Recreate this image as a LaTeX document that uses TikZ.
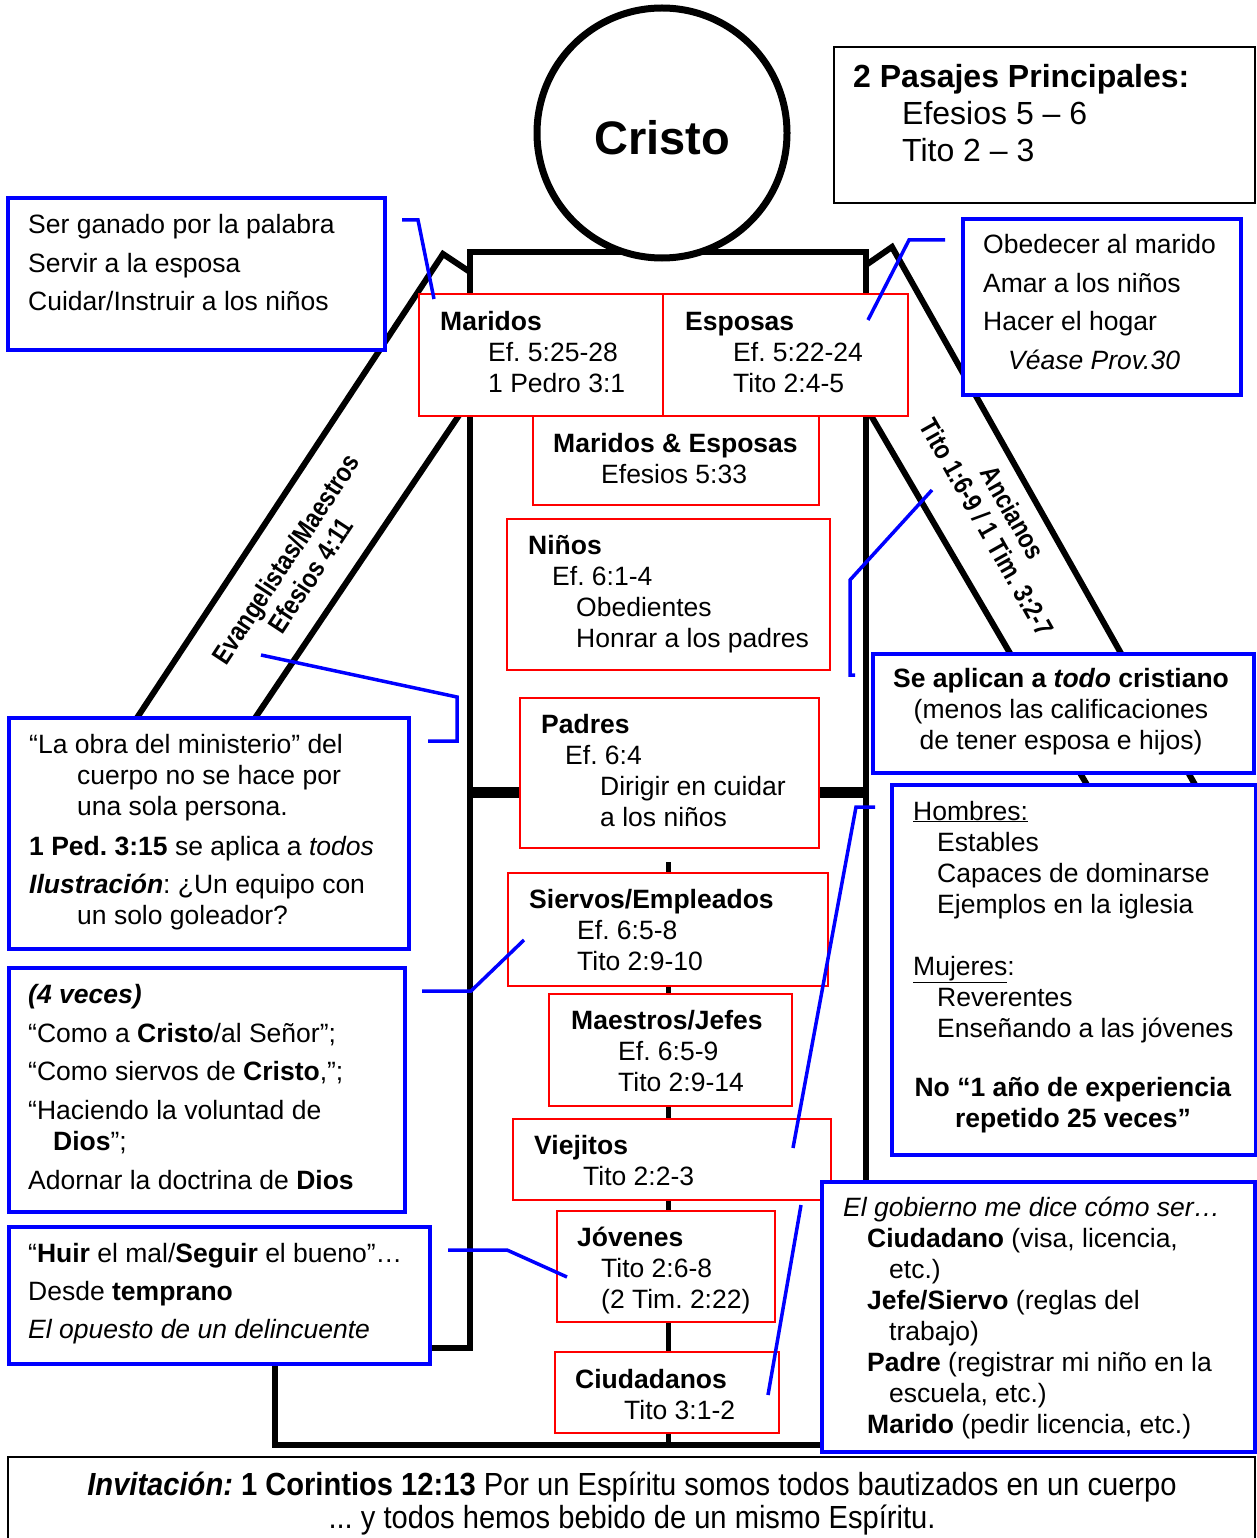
\documentclass[tikz,border=0pt]{standalone}
\usepackage{fontspec}
\setmainfont{Liberation Sans}
\newfontfamily\narrowfont[FakeStretch=0.84]{Liberation Sans}
\newfontfamily\bottomfont[FakeStretch=0.91]{Liberation Sans}
\frenchspacing
\newcommand\ft{\fontsize{26.5}{31}\selectfont}
\newcommand\tb[1]{\begin{tabular}[t]{@{}l@{}}#1\end{tabular}}
\newcommand\tc[1]{\begin{tabular}[t]{@{}c@{}}#1\end{tabular}}
\newcommand\ind[1]{\hspace*{#1pt}}
\begin{document}
\begin{tikzpicture}[x=1pt,y=-1pt,
  redbox/.style={draw=red, line width=2pt, fill=white, anchor=north west, inner sep=0pt, outer sep=0pt},
  bluebox/.style={draw=blue, line width=4pt, fill=white, anchor=north west, inner sep=0pt, outer sep=0pt},
  blackbox/.style={draw=black, line width=2pt, fill=white, anchor=north west, inner sep=0pt, outer sep=0pt},
  txt/.style={anchor=base west, inner sep=0pt, font=\ft},
  ctxt/.style={anchor=base, inner sep=0pt, font=\ft},
  body/.style={line width=6pt, line join=miter, line cap=butt},
  link/.style={blue, line width=3.5pt, line join=miter}]
\useasboundingbox (0,0) rectangle (1257,1538);
\clip (0,0) rectangle (1257,1538);
\fill[white] (0,0) rectangle (1257,1538);

% ---------- body ----------
\draw[body] (275,1445) -- (275,1348) -- (470,1348) -- (470,252) -- (866,252) -- (866,1348) -- (1061,1348) -- (1061,1445) -- cycle;
\draw[body] (470,272) -- (443,254) -- (129,730);
\draw[body] (470,399) -- (247,730);
\draw[body] (866,265) -- (892,247) -- (1198,790);
\draw[body] (866,407) -- (1090,790);
\draw[line width=11pt] (470,792) -- (866,792);
\draw[line width=5pt] (668,862) -- (668,1445);
\node[draw, circle, line width=7pt, minimum size=250pt, fill=white, inner sep=0pt] (head) at (662,133) {};
\node[anchor=base, inner sep=0pt, font=\fontsize{47}{50}\selectfont\bfseries] (cristo) at (662,155) {Cristo};

% arm labels
\node[inner sep=0pt, rotate=56.6, align=center, font=\narrowfont\fontsize{27}{30}\selectfont\bfseries] (armL) at (298,567) {Evangelistas/Maestros\\Efesios 4:11};
\node[inner sep=0pt, rotate=-60.6, align=center, font=\narrowfont\fontsize{27}{30}\selectfont\bfseries] (armR) at (1000,520) {Ancianos\\Tito 1:6-9 / 1 Tim. 3:2-7};

% ---------- red boxes ----------
\node[redbox, minimum width=244pt, minimum height=122pt] (mar) at (419,294) {};
\node[redbox, minimum width=245pt, minimum height=122pt] (esp) at (663,294) {};
\node[redbox, minimum width=286pt, minimum height=89pt] (me) at (533,416) {};
\node[redbox, minimum width=323pt, minimum height=151pt] (nin) at (507,519) {};
\node[redbox, minimum width=299pt, minimum height=150pt] (pad) at (520,698) {};
\node[redbox, minimum width=320pt, minimum height=113pt] (sie) at (508,873) {};
\node[redbox, minimum width=243pt, minimum height=112pt] (mae) at (549,994) {};
\node[redbox, minimum width=318pt, minimum height=81pt] (vie) at (513,1119) {};
\node[redbox, minimum width=218pt, minimum height=111pt] (jov) at (557,1211) {};
\node[redbox, minimum width=224pt, minimum height=81pt] (ciu) at (555,1352) {};

\node[txt] (marT) at (440,330) {\tb{\textbf{Maridos}\\\ind{48}Ef. 5:25-28\\\ind{48}1 Pedro 3:1}};
\node[txt] (espT) at (685,330) {\tb{\textbf{Esposas}\\\ind{48}Ef. 5:22-24\\\ind{48}Tito 2:4-5}};
\node[txt] (meT) at (553,452) {\tb{\textbf{Maridos \& Esposas}\\\ind{48}Efesios 5:33}};
\node[txt] (ninT) at (528,554) {\tb{\textbf{Niños}\\\ind{24}Ef. 6:1-4\\\ind{48}Obedientes\\\ind{48}Honrar a los padres}};
\node[txt] (padT) at (541,733) {\tb{\textbf{Padres}\\\ind{24}Ef. 6:4\\\ind{59}Dirigir en cuidar\\\ind{59}a los niños}};
\node[txt] (sieT) at (529,908) {\tb{\textbf{Siervos/Empleados}\\\ind{48}Ef. 6:5-8\\\ind{48}Tito 2:9-10}};
\node[txt] (maeT) at (571,1029) {\tb{\textbf{Maestros/Jefes}\\\ind{47}Ef. 6:5-9\\\ind{47}Tito 2:9-14}};
\node[txt] (vieT) at (534,1154) {\tb{\textbf{Viejitos}\\\ind{49}Tito 2:2-3}};
\node[txt] (jovT) at (577,1246) {\tb{\textbf{Jóvenes}\\\ind{24}Tito 2:6-8\\\ind{24}(2 Tim. 2:22)}};
\node[txt] (ciuT) at (575,1388) {\tb{\textbf{Ciudadanos}\\\ind{49}Tito 3:1-2}};

% ---------- blue / black boxes ----------
\node[blackbox, minimum width=421pt, minimum height=156pt] (pas) at (834,47) {};
\node[txt, font=\fontsize{32}{37}\selectfont] (pasT) at (853,88) {\tb{\textbf{2 Pasajes Principales:}\\\ind{49}Efesios 5 – 6\\\ind{49}Tito 2 – 3}};

\node[bluebox, minimum width=377pt, minimum height=152pt] (tl) at (8,198) {};
\node[txt] (tlT) at (28,234) {\tb{Ser ganado por la palabra\\[7.5pt]Servir a la esposa\\[7.5pt]Cuidar/Instruir a los niños}};

\node[bluebox, minimum width=278pt, minimum height=176pt] (tr) at (963,219) {};
\node[txt] (trT) at (983,254) {\tb{Obedecer al marido\\[7.5pt]Amar a los niños\\[7.5pt]Hacer el hogar\\[7.5pt]\ind{25}\textit{Véase Prov.30}}};

\node[bluebox, minimum width=381pt, minimum height=119pt] (sa) at (873,654) {};
\node[ctxt] (saT) at (1061,687) {\tc{\textbf{Se aplican a \textit{todo} cristiano}\\(menos las calificaciones\\de tener esposa e hijos)}};

\node[bluebox, minimum width=364pt, minimum height=370pt] (hm) at (892,785) {};
\node[txt] (hmT) at (913,820) {\tb{\underline{Hombres:}\\\ind{24}Estables\\\ind{24}Capaces de dominarse\\\ind{24}Ejemplos en la iglesia\\ \\\underline{Mujeres}:\\\ind{24}Reverentes\\\ind{24}Enseñando a las jóvenes}};
\node[ctxt] (hmB) at (1073,1096) {\tc{\textbf{No “1 año de experiencia}\\\textbf{repetido 25 veces”}}};

\node[bluebox, minimum width=433pt, minimum height=270pt] (gb) at (822,1182) {};
\node[txt] (gbT) at (843,1216) {\tb{\textit{El gobierno me dice cómo ser…}\\\ind{24}\textbf{Ciudadano} (visa, licencia,\\\ind{46}etc.)\\\ind{24}\textbf{Jefe/Siervo} (reglas del\\\ind{46}trabajo)\\\ind{24}\textbf{Padre} (registrar mi niño en la\\\ind{46}escuela, etc.)\\\ind{24}\textbf{Marido} (pedir licencia, etc.)}};

\node[bluebox, minimum width=400pt, minimum height=231pt] (l2) at (9,718) {};
\node[txt] (l2T) at (29,753) {\tb{“La obra del ministerio” del\\\ind{48}cuerpo no se hace por\\\ind{48}una sola persona.\\[9pt]\textbf{1 Ped. 3:15} se aplica a \textit{todos}\\[7.5pt]\textit{\textbf{Ilustración}}: ¿Un equipo con\\\ind{48}un solo goleador?}};

\node[bluebox, minimum width=396pt, minimum height=244pt] (l3) at (9,968) {};
\node[txt] (l3T) at (28,1003) {\tb{\textit{\textbf{(4 veces)}}\\[8pt]“Como a \textbf{Cristo}/al Señor”;\\[7pt]“Como siervos de \textbf{Cristo},”;\\[8pt]“Haciendo la voluntad de\\\ind{25}\textbf{Dios}”;\\[8pt]Adornar la doctrina de \textbf{Dios}}};

\node[bluebox, minimum width=421pt, minimum height=137pt] (l4) at (9,1227) {};
\node[txt] (l4T) at (28,1262) {\tb{“\textbf{Huir} el mal/\textbf{Seguir} el bueno”…\\[7pt]Desde \textbf{temprano}\\[7pt]\textit{El opuesto de un delincuente}}};

\node[blackbox, minimum width=1247pt, minimum height=110pt] (bt) at (8,1457) {};
\node[anchor=base, inner sep=0pt, font=\bottomfont\fontsize{32}{32}\selectfont] (btT) at (632,1495) {\tc{\textit{\textbf{Invitación:}} \textbf{1 Corintios 12:13} Por un Espíritu somos todos bautizados en un cuerpo\\... y todos hemos bebido de un mismo Espíritu.}};

% ---------- blue connectors ----------
\coordinate (a1) at (402,220); \coordinate (a2) at (418,220); \coordinate (a3) at (434,299);
\draw[link] (a1) -- (a2) -- (a3);
\coordinate (b1) at (945,240); \coordinate (b2) at (909,240); \coordinate (b3) at (868,320);
\draw[link] (b1) -- (b2) -- (b3);
\coordinate (c1) at (261,655); \coordinate (c2) at (457,697); \coordinate (c3) at (457,741); \coordinate (c4) at (428,741);
\draw[link] (c1) -- (c2) -- (c3) -- (c4);
\coordinate (d1) at (422,991); \coordinate (d2) at (471,991); \coordinate (d3) at (524,940);
\draw[link] (d1) -- (d2) -- (d3);
\coordinate (e1) at (448,1250); \coordinate (e2) at (507,1250); \coordinate (e3) at (567,1277);
\draw[link] (e1) -- (e2) -- (e3);
\coordinate (f1) at (932,490); \coordinate (f2) at (850,580); \coordinate (f3) at (850,675); \coordinate (f4) at (855,675);
\draw[link] (f1) -- (f2) -- (f3) -- (f4);
\coordinate (g1) at (875,807); \coordinate (g2) at (856,807); \coordinate (g3) at (793,1148);
\draw[link] (g1) -- (g2) -- (g3);
\coordinate (h1) at (801,1205); \coordinate (h2) at (768,1395);
\draw[link] (h1) -- (h2);
\end{tikzpicture}
\end{document}
